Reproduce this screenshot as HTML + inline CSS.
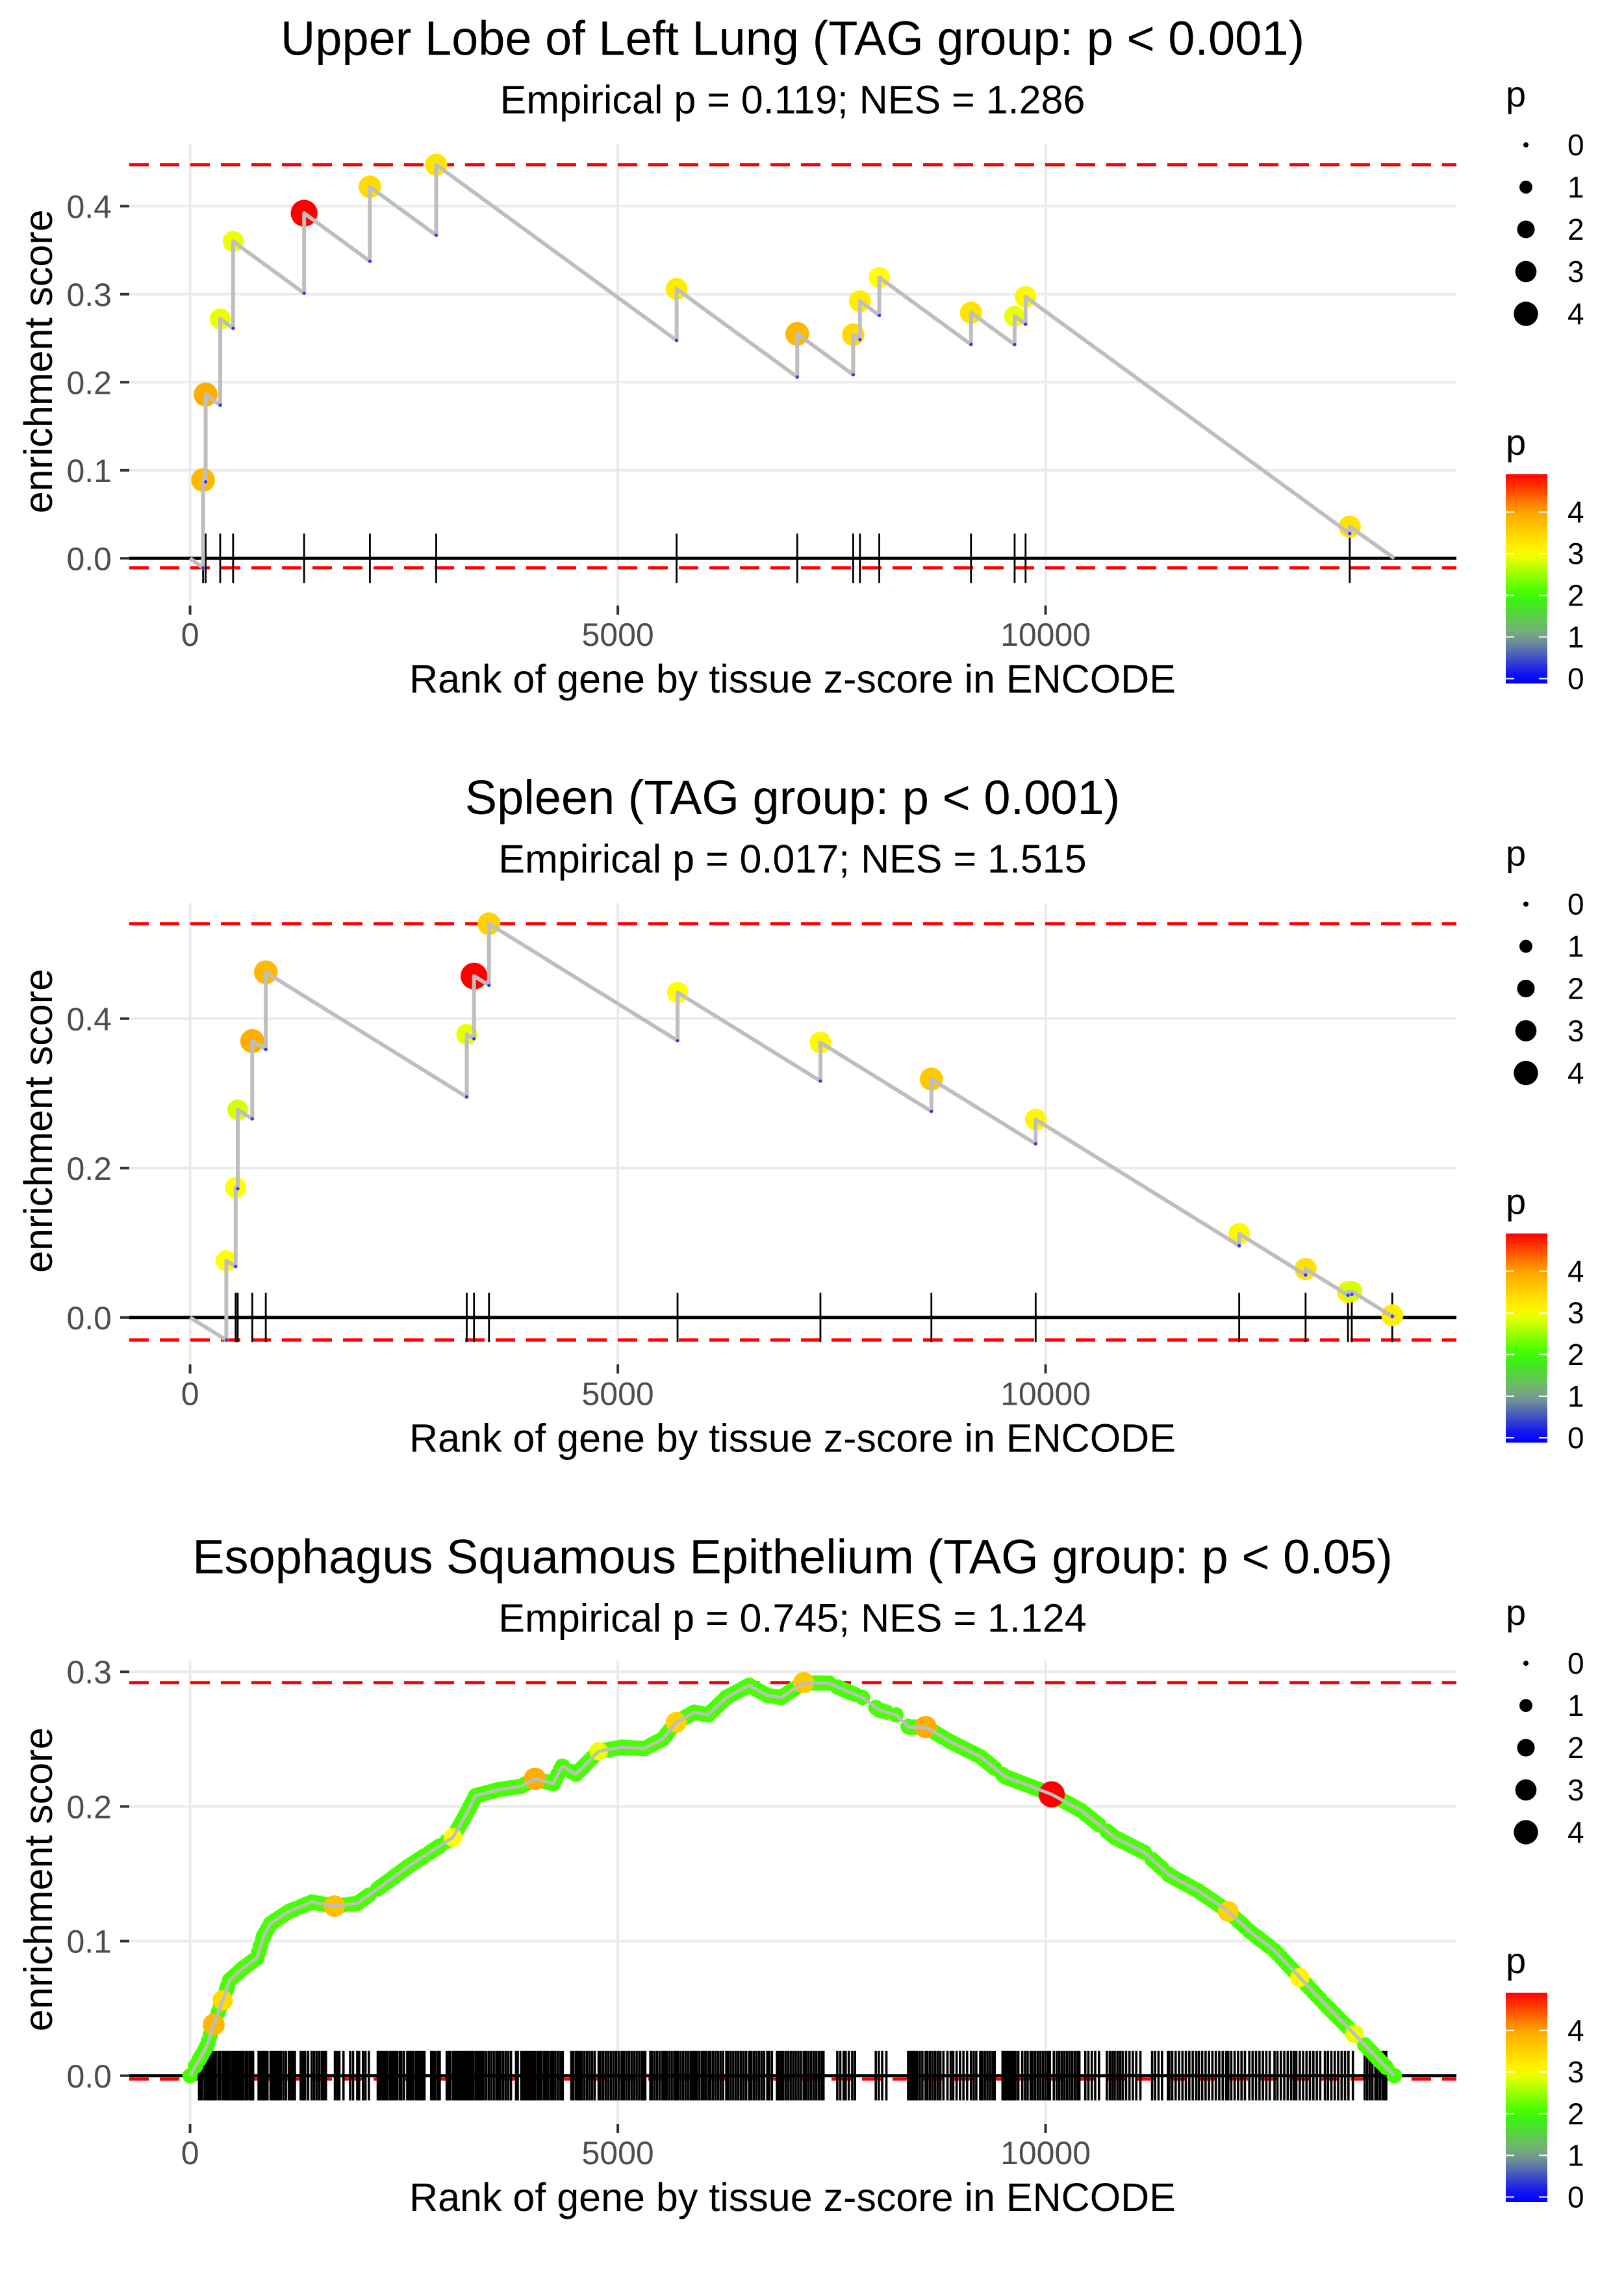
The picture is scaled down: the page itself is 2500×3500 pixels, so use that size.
<!DOCTYPE html>
<html>
<head>
<meta charset="utf-8">
<style>
html,body{margin:0;padding:0;background:#fff;}
svg{display:block;}
text{font-family:"Liberation Sans",sans-serif;}
</style>
</head>
<body>
<svg id="chart" xmlns="http://www.w3.org/2000/svg" width="2500" height="3500" viewBox="0 0 2500 3500">
<rect x="0" y="0" width="2500" height="3500" fill="#fff"/>
</svg>
<script>
// ---------- data ----------
const titles = ["Upper Lobe of Left Lung (TAG group: p < 0.001)", "Spleen (TAG group: p < 0.001)", "Esophagus Squamous Epithelium (TAG group: p < 0.05)"];
const subtitles = ["Empirical p = 0.119; NES = 1.286", "Empirical p = 0.017; NES = 1.515", "Empirical p = 0.745; NES = 1.124"];
const xTicks = [0, 5000, 10000];
const xTickLabels = ["0", "5000", "10000"];
const nGenes = 14076;

const p1Ranks = [152,182,352,503,1333,2102,2877,5687,7097,7751,7830,8056,9128,9638,9766,13555];
const p1ES = [0.089,0.186,0.272,0.360,0.392,0.422,0.447,0.306,0.255,0.254,0.292,0.319,0.279,0.275,0.297,0.036];
const p1P = [3.8,3.9,2.9,2.9,4.9,3.4,3.3,3.2,3.8,3.4,3.2,3.0,3.3,2.9,3.1,3.3];
const p1YTicks = [0,0.1,0.2,0.3,0.4];
const p1YLabels = ["0.0","0.1","0.2","0.3","0.4"];

const p2Ranks = [424,533,557,727,885,3234,3319,3494,5698,7368,8665,9884,12263,13039,13535,13579,14052];
const p2ES = [0.076,0.174,0.278,0.370,0.462,0.379,0.457,0.527,0.435,0.368,0.319,0.265,0.112,0.065,0.034,0.035,0.003];
const p2P = [3.0,3.0,2.8,3.9,3.8,2.9,4.9,3.5,3.0,3.1,3.6,3.1,3.1,3.3,3.2,2.8,3.2];
const p2YTicks = [0,0.2,0.4];
const p2YLabels = ["0.0","0.2","0.4"];

const p3CurveRanks = [0,62,196,276,382,462,622,781,861,941,1154,1421,1687,1954,2220,2539,2805,3072,3232,3338,3604,3871,4031,4244,4350,4510,4776,5043,5309,5522,5682,5895,6055,6268,6535,6747,6908,7173,7270,7466,7663,7860,8056,8252,8400,8597,8891,9236,9530,9825,10071,10415,10808,11152,11447,11791,12135,12381,12676,12971,13265,13609,13855,14076];
const p3CurveES = [0,0.007,0.022,0.038,0.056,0.071,0.080,0.0875,0.104,0.113,0.122,0.129,0.126,0.128,0.140,0.155,0.166,0.177,0.195,0.208,0.2125,0.215,0.2205,0.217,0.230,0.224,0.241,0.244,0.243,0.250,0.2625,0.270,0.268,0.281,0.290,0.2825,0.281,0.292,0.2917,0.2917,0.286,0.281,0.2716,0.268,0.259,0.259,0.248,0.237,0.222,0.215,0.209,0.197,0.177,0.166,0.149,0.137,0.122,0.1075,0.093,0.073,0.053,0.031,0.0146,0];
const p3Hits = [105,118,140,170,196,215,240,262,276,300,330,352,382,400,425,440,462,490,515,540,560,585,600,622,650,672,700,715,737,
801,825,850,861,880,905,941,960,985,1010,1035,1060,1090,1120,1154,1180,1200,1225,
1293,1320,1345,1380,1421,1450,1480,1510,1540,1565,1588,1693,1720,1745,1793,1871,1905,1954,1976,2021,2050,2090,
2194,2215,2220,2240,2262,2285,2300,2330,2355,2380,2400,2420,2450,2470,2500,2539,2560,2585,2610,2640,2665,2690,2715,2740,
2818,2845,2870,2900,2918,
3000,3020,3040,3072,3090,3110,3130,3150,3175,3200,3215,3232,3250,3270,3290,3310,3338,3360,3385,3410,3430,3460,3490,3520,3550,3580,3604,3630,3660,3690,3720,3751,
3810,3830,3871,3890,3915,3940,3960,3985,4010,4031,4060,4085,4110,4140,4165,4190,4220,4244,4270,4300,4330,4356,
4456,4480,4510,4530,4555,4580,4610,4640,4670,4700,4730,4776,4800,4830,4860,4890,4920,4950,4980,5010,5043,5070,5100,5130,5160,5190,5220,5250,5280,5300,5321,
5380,5400,5430,5460,5490,5522,5545,5570,5600,5630,5660,5682,5700,5730,5760,5790,5820,5850,5870,5895,5920,5950,5980,6000,6027,
6058,6080,6110,6140,6170,6200,6230,6268,6290,6320,6350,6380,6410,6440,6470,6500,6535,6560,6590,6620,6650,6680,6710,6747,6770,6801,
6860,6880,6908,6930,6960,6990,7020,7050,7080,7110,7140,7173,7200,7230,7260,7290,7320,7350,7380,7404,
7565,7600,7640,7663,7700,7740,7772,8015,8050,8090,8139,
8393,8420,8440,8460,8480,8500,8530,8560,8597,8620,8650,8680,8710,8740,8770,8806,
8853,8891,8920,8960,9000,9040,9083,9128,9160,9190,9236,9260,9290,9320,9350,9380,9405,
9497,9520,9530,9550,9570,9590,9610,9630,9650,9681,9727,9760,9790,9825,9850,9880,9910,9940,9970,10000,10030,10050,
10096,10130,10160,10190,10220,10250,10280,10310,10340,10370,10395,10464,10500,10540,10580,10624,
10716,10750,10780,10808,10840,10870,10900,10940,10980,11020,11060,11108,11245,11280,11320,11361,
11430,11447,11480,11520,11560,11600,11640,11680,11720,11760,11791,11830,11870,11910,11950,11990,12030,12070,12110,12135,12170,12210,12250,12290,12330,12381,12420,12460,12500,12540,12580,12620,12676,12710,12750,12790,12830,12870,12902,
12930,12971,13010,13050,13090,13130,13170,13210,13265,13300,13340,13380,13420,13460,13500,13540,13592,
13730,13760,13790,13820,13855,13880,13910,13940,13960,13982];
const p3DefaultP = 2.1;
const p3HighRanks = [276,382,1687,3072,4031,4776,5682,7173,8597,10071,12135,12971,13609];
const p3HighP = [3.8,3.4,3.7,3.0,3.9,2.9,3.5,3.6,3.9,4.9,3.5,3.1,2.9];
const p3YTicks = [0,0.1,0.2,0.3];
const p3YLabels = ["0.0","0.1","0.2","0.3"];

const sizeLegendValues = [0,1,2,3,4];
const colorLegendValues = [0,1,2,3,4];

// ---------- layout ----------
const NS = "http://www.w3.org/2000/svg";
const svg = document.getElementById("chart");
const PANEL_DY = 1168.5;
const panelLeft = 199, panelRight = 2242;
const xs = r => 292.6 + r * 0.1317;
const slope = 7.1e-5;
const panels = [
  {zero:859.3, ppu:1355, top:220.7, bottom:932},
  {zero:2027.8, ppu:1150, top:1390, bottom:2100},
  {zero:3194.8, ppu:2072, top:2556, bottom:3269}
];

function mk(tag, attrs, parent) {
  const el = document.createElementNS(NS, tag);
  for (const k in attrs) el.setAttribute(k, attrs[k]);
  (parent || svg).appendChild(el);
  return el;
}
const colorStops = [[0,[0,0,255]],[1,[128,160,140]],[2,[51,255,0]],[3,[255,255,0]],[4,[255,165,0]],[4.9,[255,0,0]]];
function pColor(p) {
  if (p <= colorStops[0][0]) return "rgb(0,0,255)";
  for (let i = 1; i < colorStops.length; i++) {
    if (p <= colorStops[i][0]) {
      const a = colorStops[i-1], b = colorStops[i];
      const t = (p - a[0]) / (b[0] - a[0]);
      const c = a[1].map((v, j) => Math.round(v + (b[1][j] - v) * t));
      return "rgb(" + c.join(",") + ")";
    }
  }
  return "rgb(255,0,0)";
}
const sizeR = p => Math.sqrt(16 + 83.5 * p);
const sizeR3 = p => 7 + 3 * (p - 0.5);
function interpES(r) {
  for (let i = 1; i < p3CurveRanks.length; i++) {
    if (r <= p3CurveRanks[i]) {
      const t = (r - p3CurveRanks[i-1]) / (p3CurveRanks[i] - p3CurveRanks[i-1]);
      return p3CurveES[i-1] + (p3CurveES[i] - p3CurveES[i-1]) * t;
    }
  }
  return 0;
}

const defs = mk("defs", {});
const grad = mk("linearGradient", {id:"pgrad", x1:"0", y1:"1", x2:"0", y2:"0"}, defs);
for (let k = 0; k <= 20; k++) {
  const v = -0.11 + (4.906 + 0.11) * k / 20;
  mk("stop", {offset: (k/20).toFixed(3), "stop-color": pColor(v)}, grad);
}

const yTickSets = [p1YTicks, p2YTicks, p3YTicks];
const yLabelSets = [p1YLabels, p2YLabels, p3YLabels];

panels.forEach((P, k) => {
  const off = k * PANEL_DY;
  const ys = v => P.zero - v * P.ppu;
  const g = mk("g", {});
  
  

  const t = mk("text", {x:1220, y:84.5+off, "text-anchor":"middle", "font-size":74, fill:"#000"}, g);
  t.textContent = titles[k];
  
  
  const st = mk("text", {x:1220, y:174.5+off, "text-anchor":"middle", "font-size":61, fill:"#000"}, g);
  st.textContent = subtitles[k];
  
  

  yTickSets[k].forEach((v, i) => {
    const gl = mk("line", {x1:panelLeft, x2:panelRight, y1:ys(v), y2:ys(v), stroke:"#ebebeb", "stroke-width":4}, g);
    
    
    const tk = mk("line", {x1:185, x2:199, y1:ys(v), y2:ys(v), stroke:"#333", "stroke-width":4}, g);
    
    
    const lb = mk("text", {x:172, y:ys(v)+18, "text-anchor":"end", "font-size":50, fill:"#4d4d4d"}, g);
    lb.textContent = yLabelSets[k][i];
    
    
  });
  xTicks.forEach((r, i) => {
    const gl = mk("line", {x1:xs(r), x2:xs(r), y1:P.top, y2:P.bottom, stroke:"#ebebeb", "stroke-width":4}, g);
    
    
    const tk = mk("line", {x1:xs(r), x2:xs(r), y1:P.bottom, y2:P.bottom+14, stroke:"#333", "stroke-width":4}, g);
    
    
    const lb = mk("text", {x:xs(r), y:994+off, "text-anchor":"middle", "font-size":50, fill:"#4d4d4d"}, g);
    lb.textContent = xTickLabels[i];
    
    
  });

  const xt = mk("text", {x:1220, y:1066+off, "text-anchor":"middle", "font-size":61, fill:"#000"}, g);
  xt.textContent = "Rank of gene by tissue z-score in ENCODE";
  
  
  const cy = (P.top + P.bottom) / 2 - 20;
  const yt = mk("text", {x:0, y:0, "text-anchor":"middle", "font-size":61, fill:"#000", transform:"translate(80," + cy + ") rotate(-90)"}, g);
  yt.textContent = "enrichment score";
  
  

  let pts = [], dots = [], troughs = [], maxES = 0, minES = 0;
  if (k < 2) {
    const ranks = k === 0 ? p1Ranks : p2Ranks;
    const es = k === 0 ? p1ES : p2ES;
    const pv = k === 0 ? p1P : p2P;
    let prevR = 0, prevE = 0;
    pts.push([0, 0]);
    ranks.forEach((r, i) => {
      const tr = prevE - slope * (r - prevR);
      pts.push([r, tr]); pts.push([r, es[i]]);
      troughs.push([r, tr]);
      dots.push([r, es[i], pv[i]]);
      prevR = r; prevE = es[i];
      maxES = Math.max(maxES, es[i]); minES = Math.min(minES, tr);
    });
    pts.push([nGenes, 0]);
  } else {
    p3CurveRanks.forEach((r, i) => { pts.push([r, p3CurveES[i]]); maxES = Math.max(maxES, p3CurveES[i]); minES = Math.min(minES, p3CurveES[i]); });
    p3CurveRanks.forEach((r, i) => dots.push([r, p3CurveES[i], p3DefaultP]));
    p3Hits.forEach(r => dots.push([r, interpES(r), p3DefaultP]));
    p3HighRanks.forEach((r, i) => dots.push([r, interpES(r), p3HighP[i]]));
  }
  const hits = k === 0 ? p1Ranks : (k === 1 ? p2Ranks : p3Hits);

  [maxES, minES - (k === 2 ? 0.0025 : 0)].forEach((v, i) => {
    const dl = mk("line", {x1:panelLeft, x2:panelRight, y1:ys(v), y2:ys(v), stroke:"#ff0000", "stroke-width":5, "stroke-dasharray":"30 17"}, g);
    
    
  });

  const zl = mk("line", {x1:panelLeft, x2:panelRight, y1:ys(0), y2:ys(0), stroke:"#000", "stroke-width":5}, g);
  
  

  hits.forEach(r => {
    const rl = mk("line", {x1:xs(r), x2:xs(r), y1:ys(0)-38, y2:ys(0)+38, stroke:"#000", "stroke-width":k === 2 ? 3.6 : 2.8}, g);
    
    
  });

  dots.forEach(d => {
    const c = mk("circle", {cx:xs(d[0]), cy:ys(d[1]), r:(k < 2 ? sizeR(d[2]) : sizeR3(d[2])), fill:pColor(d[2])}, g);
    
    
  });

  const path = mk("polyline", {points: pts.map(q => xs(q[0]).toFixed(1) + "," + ys(q[1]).toFixed(1)).join(" "), fill:"none", stroke:"#bebebe", "stroke-width":k === 2 ? 5 : 6, "stroke-linejoin":"round"}, g);
  
  

  troughs.forEach(q => {
    const c = mk("circle", {cx:xs(q[0]), cy:ys(q[1]), r:2.5, fill:"#3030ff"}, g);
    
    
  });

  const pt = mk("text", {x:2318, y:164+off, "font-size":56, fill:"#000"}, g);
  pt.textContent = "p";
  
  
  sizeLegendValues.forEach((v, i) => {
    const yy = 223 + i * 65 + off;
    const c = mk("circle", {cx:2349, cy:yy, r:sizeR(v), fill:"#000"}, g);
    
    
    const l = mk("text", {x:2413, y:yy+16, "font-size":46, fill:"#000"}, g);
    l.textContent = String(v);
    
    
  });

  const ct = mk("text", {x:2318, y:700+off, "font-size":56, fill:"#000"}, g);
  ct.textContent = "p";
  
  
  const bar = mk("rect", {x:2318, y:730+off, width:64, height:322, fill:"url(#pgrad)"}, g);
  
  
  colorLegendValues.forEach(v => {
    const yy = 1044.5 - v * 64.1 + off;
    const a = mk("line", {x1:2318, x2:2331, y1:yy, y2:yy, stroke:"#fff", "stroke-width":2}, g);
    
    
    const b = mk("line", {x1:2369, x2:2382, y1:yy, y2:yy, stroke:"#fff", "stroke-width":2}, g);
    
    
    const l = mk("text", {x:2413, y:yy+16, "font-size":46, fill:"#000"}, g);
    l.textContent = String(v);
    
    
  });
});
</script>
</body>
</html>
